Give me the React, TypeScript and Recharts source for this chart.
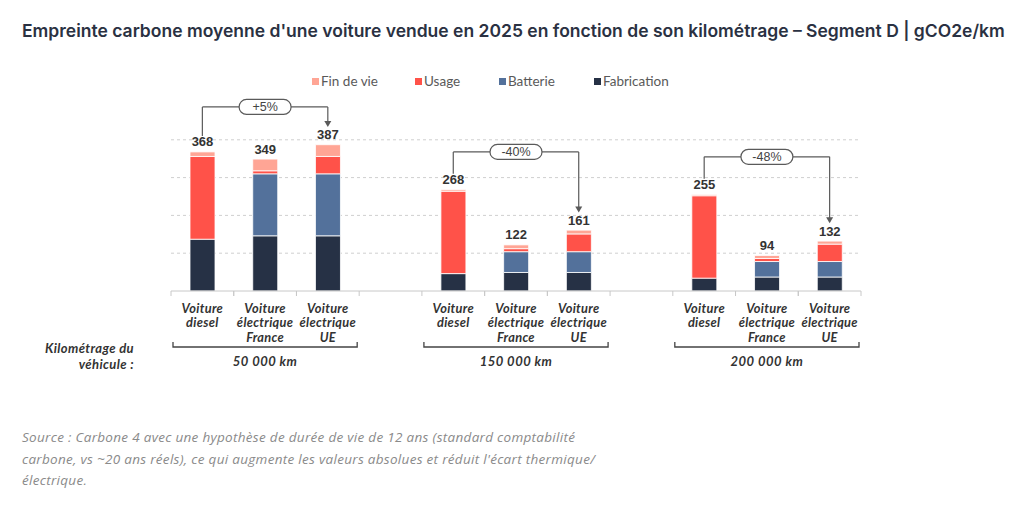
import React from "react";
import {
  BarChart,
  Bar,
  XAxis,
  YAxis,
  CartesianGrid,
  LabelList,
  ReferenceLine,
  ReferenceDot,
} from "recharts";

// values in gCO2e/km, 3 vehicles x 3 mileages
const vehicleLabels = [
  ["Voiture", "diesel"],
  ["Voiture", "électrique", "France"],
  ["Voiture", "électrique", "UE"],
];
const mileages = ["50 000 km", "150 000 km", "200 000 km"];
const fabrication = [137, 146, 146, 46, 49, 49, 34, 37, 37];
const batterie = [0, 164, 164, 0, 55, 55, 0, 41, 41];
const usage = [219, 8, 46, 218, 8, 47, 218, 8, 46];
const finDeVie = [12, 31, 31, 4, 10, 10, 3, 8, 8];
const totals = [368, 349, 387, 268, 122, 161, 255, 94, 132];
const deltas = ["+5%", "-40%", "-48%"];
const yTicks = [100, 200, 300, 400];

const series = [
  { key: "fabrication", name: "Fabrication", color: "#263145" },
  { key: "batterie", name: "Batterie", color: "#53719b" },
  { key: "usage", name: "Usage", color: "#ff5249" },
  { key: "finDeVie", name: "Fin de vie", color: "#ffa595" },
];

type Row = {
  key: string;
  group: number;
  pos: number;
  fabrication?: number;
  batterie?: number;
  usage?: number;
  finDeVie?: number;
  total?: number;
};

const rows: Row[] = [];
mileages.forEach((_, g) => {
  if (g > 0) rows.push({ key: "gap" + g, group: g, pos: -1 });
  vehicleLabels.forEach((_, v) => {
    const i = g * 3 + v;
    rows.push({
      key: `g${g}v${v}`,
      group: g,
      pos: v,
      fabrication: fabrication[i],
      batterie: batterie[i],
      usage: usage[i],
      finDeVie: finDeVie[i],
      total: totals[i],
    });
  });
});

const W = 1024;
const H = 505;
const LEFT = 171;
const RIGHT = 861;
const TOP = 102;
const BOTTOM = 291;
const XAXIS_H = 90;
const BW = (RIGHT - LEFT) / rows.length;

const ink = "#333333";
const lineCol = "#5a5a5a";
const labelFont = "Lato, 'Open Sans', sans-serif";

function VehicleTick(props: any) {
  const { x, y, payload } = props;
  const row = rows.find((r) => r.key === payload.value);
  if (!row || row.pos < 0) return null;
  const lines = vehicleLabels[row.pos];
  return (
    <g>
      <line x1={x - BW / 2} x2={x - BW / 2} y1={y} y2={y + 5} stroke="#c8c8c8" />
      <line x1={x + BW / 2} x2={x + BW / 2} y1={y} y2={y + 5} stroke="#c8c8c8" />
      <text
        textAnchor="middle"
        fontFamily={labelFont}
        fontStyle="italic"
        fontWeight={700}
        fontSize={12.8}
        letterSpacing={0.3}
        fill={ink}
      >
        {lines.map((l, k) => (
          <tspan key={k} x={x} y={y + 21.5 + k * 14.5}>
            {l}
          </tspan>
        ))}
      </text>
      {row.pos === 1 && (
        <g>
          <path
            d={`M${x - 1.5 * BW + 2},${y + 51} V${y + 56} H${x + 1.5 * BW - 2} V${y + 51}`}
            fill="none"
            stroke="#444"
            strokeWidth={1.3}
          />
          <text
            x={x}
            y={y + 74.5}
            textAnchor="middle"
            fontFamily={labelFont}
            fontStyle="italic"
            fontWeight={700}
            fontSize={13}
            letterSpacing={0.5}
            fill={ink}
          >
            {mileages[row.group]}
          </text>
        </g>
      )}
    </g>
  );
}

function TotalLabel(props: any) {
  const { x, y, width, value } = props;
  if (value == null) return null;
  return (
    <text
      x={x + width / 2}
      y={y - 5.5}
      textAnchor="middle"
      fontFamily="'Liberation Sans', Arial, sans-serif"
      fontWeight={700}
      fontSize={13}
      fill={ink}
    >
      {value}
    </text>
  );
}

function pillShape(text: string) {
  return (p: any) => (
    <g>
      <rect
        x={p.cx - 26}
        y={p.cy - 7.5}
        width={52}
        height={15}
        rx={7.5}
        fill="#fff"
        stroke={lineCol}
        strokeWidth={1.2}
      />
      <text
        x={p.cx}
        y={p.cy + 4.5}
        textAnchor="middle"
        fontFamily="'Liberation Sans', Arial, sans-serif"
        fontSize={12.5}
        fill="#444"
      >
        {text}
      </text>
    </g>
  );
}

function arrowShape(p: any) {
  return (
    <path
      d={`M${p.cx - 3.5},${p.cy - 6} L${p.cx + 3.5},${p.cy - 6} L${p.cx},${p.cy} Z`}
      fill={lineCol}
    />
  );
}

export default function App() {
  const annotations = mileages.map((_, g) => {
    const a = `g${g}v0`;
    const mid = `g${g}v1`;
    const b = `g${g}v2`;
    const tA = totals[g * 3];
    const tB = totals[g * 3 + 2];
    const level = Math.max(tA, tB) + 100;
    const startA = tA + 42;
    const tipB = tB + 47;
    return { g, a, mid, b, level, startA, tipB };
  });

  return (
    <div
      style={{
        position: "absolute",
        left: 0,
        top: 0,
        width: W,
        height: H,
        background: "#fff",
        overflow: "hidden",
      }}
    >
      <div
        style={{
          position: "absolute",
          left: 22,
          top: 20,
          fontFamily: "Inter, sans-serif",
          fontWeight: 600,
          fontSize: 17.5,
          color: "#2a3142",
          whiteSpace: "nowrap",
        }}
      >
        Empreinte carbone moyenne d'une voiture vendue en 2025 en fonction de son kilométrage – Segment D | gCO2e/km
      </div>

      {[...series].reverse().map((s, k) => (
        <div
          key={s.key}
          style={{
            position: "absolute",
            left: [312, 415, 499, 594][k],
            top: 73,
            display: "flex",
            alignItems: "center",
            fontFamily: labelFont,
            fontSize: 13.5,
            color: "#595959",
            whiteSpace: "nowrap",
          }}
        >
          <span
            style={{
              display: "inline-block",
              width: 7,
              height: 7,
              background: s.color,
              marginRight: 2,
            }}
          />
          {s.name}
        </div>
      ))}

      <div
        style={{
          position: "absolute",
          right: W - 134,
          top: 341,
          textAlign: "right",
          fontFamily: labelFont,
          fontStyle: "italic",
          fontWeight: 700,
          fontSize: 13,
          letterSpacing: 0.4,
          lineHeight: "15.5px",
          color: ink,
        }}
      >
        Kilométrage du
        <br />
        véhicule :
      </div>

      <div style={{ position: "absolute", left: 0, top: 0 }}>
        <BarChart
          width={W}
          height={H}
          data={rows}
          barSize={25}
          margin={{ top: TOP, left: LEFT, right: W - RIGHT, bottom: H - BOTTOM - XAXIS_H }}
        >
          <CartesianGrid
            vertical={false}
            horizontalValues={yTicks}
            stroke="#cfcfcf"
            strokeDasharray="3 3"
          />
          <XAxis
            dataKey="key"
            interval={0}
            height={XAXIS_H}
            tickLine={false}
            tickSize={0}
            tickMargin={0}
            axisLine={{ stroke: "#c8c8c8" }}
            tick={<VehicleTick />}
          />
          <YAxis hide domain={[0, 500]} ticks={yTicks} />
          {series.map((s) => (
            <Bar
              key={s.key}
              dataKey={s.key}
              stackId="s"
              fill={s.color}
              stroke="#ffffff"
              strokeWidth={0.8}
              isAnimationActive={false}
            >
              {s.key === "finDeVie" && (
                <LabelList dataKey="total" content={<TotalLabel />} />
              )}
            </Bar>
          ))}
          {annotations.map((a) => (
            <ReferenceLine
              key={"l" + a.g}
              segment={[
                { x: a.a, y: a.startA },
                { x: a.a, y: a.level },
              ]}
              stroke={lineCol}
              strokeWidth={1.2}
            />
          ))}
          {annotations.map((a) => (
            <ReferenceLine
              key={"h" + a.g}
              segment={[
                { x: a.a, y: a.level },
                { x: a.b, y: a.level },
              ]}
              stroke={lineCol}
              strokeWidth={1.2}
            />
          ))}
          {annotations.map((a) => (
            <ReferenceLine
              key={"r" + a.g}
              segment={[
                { x: a.b, y: a.level },
                { x: a.b, y: a.tipB + 5 },
              ]}
              stroke={lineCol}
              strokeWidth={1.2}
            />
          ))}
          {annotations.map((a) => (
            <ReferenceDot
              key={"t" + a.g}
              x={a.b}
              y={a.tipB}
              r={4}
              shape={arrowShape}
            />
          ))}
          {annotations.map((a) => (
            <ReferenceDot
              key={"p" + a.g}
              x={a.mid}
              y={a.level}
              r={10}
              shape={pillShape(deltas[a.g])}
            />
          ))}
        </BarChart>
      </div>

      <div
        style={{
          position: "absolute",
          left: 22,
          top: 427,
          fontFamily: "'Open Sans', sans-serif",
          fontStyle: "italic",
          fontSize: 13.5,
          letterSpacing: 0.3,
          lineHeight: "21.5px",
          color: "#8a8a8a",
          whiteSpace: "nowrap",
        }}
      >
        Source : Carbone 4 avec une hypothèse de durée de vie de 12 ans (standard comptabilité
        <br />
        carbone, vs ~20 ans réels), ce qui augmente les valeurs absolues et réduit l'écart thermique/
        <br />
        électrique.
      </div>
    </div>
  );
}
